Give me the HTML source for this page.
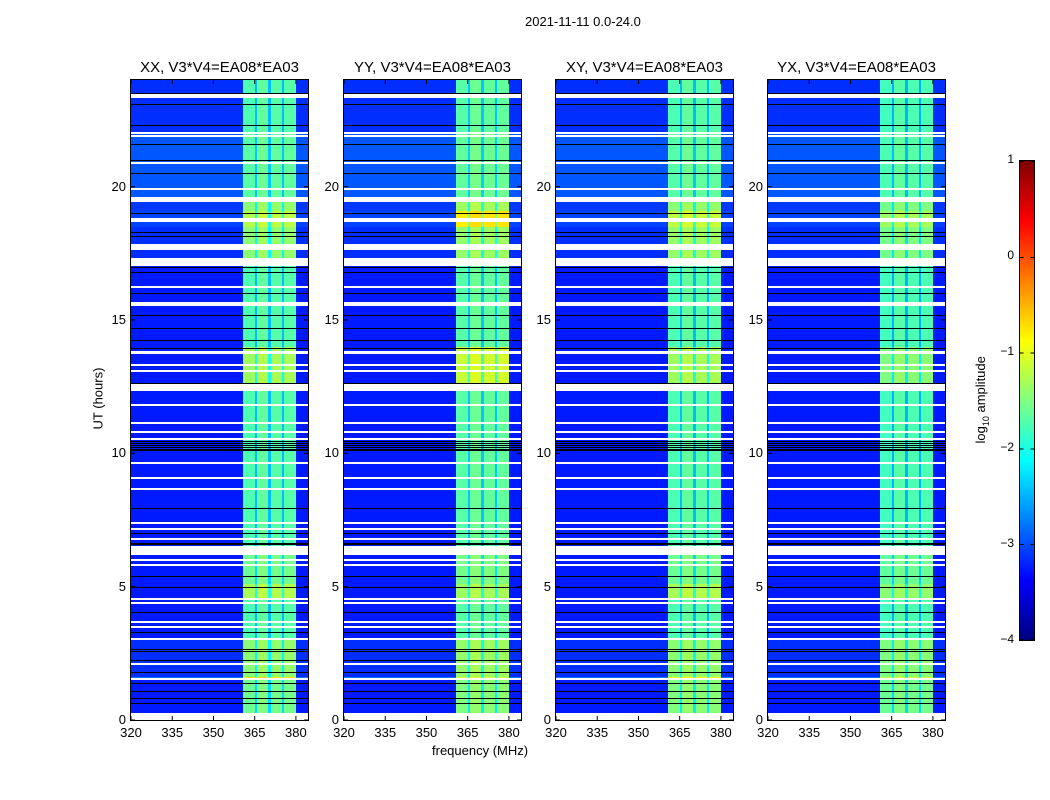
<!DOCTYPE html>
<html><head><meta charset="utf-8">
<style>
body{margin:0;background:#fff;width:1050px;height:800px;overflow:hidden;font-family:"Liberation Sans",sans-serif;}
#wrap{position:relative;width:1050px;height:800px;}
.t{position:absolute;font-size:13px;color:#000;white-space:nowrap;}
canvas{position:absolute;image-rendering:pixelated;}
</style></head>
<body>
<div id="wrap">
<div class="t" style="left:525px;top:14px;">2021-11-11 0.0-24.0</div>
<div class="t" style="left:432px;top:743px;">frequency (MHz)</div>
<div class="t" style="left:62px;top:391px;transform:rotate(-90deg);width:72px;text-align:center;">UT (hours)</div>
<div class="t" style="left:930px;top:391px;transform:rotate(-90deg);width:104px;text-align:center;">log<sub style="font-size:9px">10</sub> amplitude</div>
<canvas id="cb" width="16" height="480" style="left:1019px;top:160px;border:1px solid #000;box-sizing:border-box;width:16px;height:481px"></canvas>
</div>
<script>
// ---- data ----
const panelTitles = ["XX, V3*V4=EA08*EA03","YY, V3*V4=EA08*EA03","XY, V3*V4=EA08*EA03","YX, V3*V4=EA08*EA03"];
const xTicks = [320,335,350,365,380];
const yTicks = [0,5,10,15,20];
const cbTicks = [1,0,-1,-2,-3,-4];
// flagged (white) time ranges, hours
const whiteRanges = [[0,0.25],[1.5,1.56],[2.08,2.12],[3.0,3.06],[3.46,3.5],[3.65,3.69],[4.36,4.4],[4.51,4.55],[5.78,5.83],[5.98,6.03],[6.15,6.5],[6.76,6.8],[7.13,7.17],[7.38,7.42],[8.63,8.67],[9.04,9.08],[9.61,9.65],[10.53,10.57],[10.78,10.82],[11.13,11.17],[11.78,11.82],[12.35,12.6],[13.05,13.09],[13.31,13.35],[13.68,13.8],[15.53,15.57],[15.63,15.67],[16.23,16.27],[17.0,17.3],[17.66,17.7],[17.73,17.77],[17.78,17.82],[18.68,18.72],[18.78,18.82],[19.4,19.6],[19.91,19.95],[20.88,20.92],[21.88,21.92],[21.98,22.02],[23.3,23.45]];
// black rows, hours
const blackLines = [0.63,0.83,1.1,1.4,1.8,2.25,2.6,2.65,3.3,4.05,5.0,5.4,6.6,6.65,7.0,7.94,10.12,10.18,10.25,10.32,10.38,10.45,12.62,13.95,14.25,14.7,15.2,16.0,16.8,17.0,18.15,18.3,19.0,20.5,21.0,21.6,22.3,23.1,23.5];
// band level segments: segment start hours, log10 amplitude per panel
const segStarts = [0,1.5,1.6,3,4.5,5.1,6.5,12.6,14,17.3,18.5,19.1,19.6,22,24];
const bandXX = [-1.6,-0.8,-1.45,-1.75,-1.3,-1.6,-1.75,-1.35,-1.75,-1.45,-1.25,-1.45,-1.7,-1.75];
const bandYY = [-1.5,-1.15,-1.4,-1.7,-1.35,-1.55,-1.7,-1.15,-1.7,-1.4,-0.8,-1.35,-1.65,-1.7];
const bandXY = [-1.5,-0.9,-1.45,-1.75,-1.3,-1.6,-1.75,-1.35,-1.75,-1.4,-1.2,-1.45,-1.7,-1.75];
const bandYX = [-1.6,-1.15,-1.5,-1.8,-1.45,-1.65,-1.8,-1.5,-1.8,-1.55,-1.35,-1.55,-1.75,-1.8];
const bgLevels = [-3.25,-2.8,-3.15,-3.25,-3.25,-3.25,-3.25,-3.25,-3.25,-3.15,-3.05,-3.1,-2.95,-3.15];
// channel profile within band (MHz edges and offsets)
const chanEdges = [360.7,365,365.8,370,370.9,375,375.8,380.2];
const chanOffset = [0,-0.7,0.1,-0.7,0.05,-0.7,0.05];
const panels = [bandXX,bandYY,bandXY,bandYX];
const panelLeft = [131,344,556,768];

// ---- scales ----
const PW=177, PTOP=80, PH=640, FMIN=320, FMAX=384.4, TMAX=24;
const xs = (f)=> (f-FMIN)/(FMAX-FMIN)*PW;
const ys = (t)=> PH - t/TMAX*PH;
function jet(v){
  const c=(x)=>Math.max(0,Math.min(1,x));
  return [c(1.5-Math.abs(4*v-3)),c(1.5-Math.abs(4*v-2)),c(1.5-Math.abs(4*v-1))].map(x=>Math.round(x*255));
}
const norm = (l)=> (l+4)/5;
function segIdx(t){let i=0;while(i<segStarts.length-2&&t>=segStarts[i+1])i++;return i;}
const wrap=document.getElementById('wrap');

panels.forEach((band,p)=>{
  const L=panelLeft[p];
  const cv=document.createElement('canvas');
  cv.width=PW;cv.height=PH;
  cv.style.left=L+'px';cv.style.top=PTOP+'px';
  
  
  wrap.appendChild(cv);
  const ctx=cv.getContext('2d');
  const img=ctx.createImageData(PW,PH);
  for(let y=0;y<PH;y++){
    const t=(PH-y-0.5)/PH*TMAX;
    const si=segIdx(t);
    for(let x=0;x<PW;x++){
      const f=FMIN+(x+0.5)/PW*(FMAX-FMIN);
      let lv=bgLevels[si];
      if(f>=chanEdges[0]&&f<chanEdges[chanEdges.length-1]){
        let k=0;while(k<chanEdges.length-2&&f>=chanEdges[k+1])k++;
        lv=band[si]+chanOffset[k];
      }
      const col=jet(norm(lv));
      const o=(y*PW+x)*4;
      img.data[o]=col[0];img.data[o+1]=col[1];img.data[o+2]=col[2];img.data[o+3]=255;
    }
  }
  ctx.putImageData(img,0,0);
  ctx.fillStyle='#000';
  blackLines.forEach(t=>{ctx.fillRect(0,Math.round(ys(t)),PW,1);});
  ctx.fillStyle='#fff';
  whiteRanges.forEach(r=>{const y1=ys(r[1]),y0=ys(r[0]);ctx.fillRect(0,Math.floor(y1),PW,Math.max(2,Math.round(y0-y1)));});
  const svgNS='http://www.w3.org/2000/svg';
  const svg=document.createElementNS(svgNS,'svg');
  svg.setAttribute('width',PW+2);svg.setAttribute('height',PH+2);
  svg.style.position='absolute';svg.style.left=(L-1)+'px';svg.style.top=(PTOP-1)+'px';
  
  
  let h=`<rect x="0.5" y="0.5" width="${PW+1}" height="${PH+1}" fill="none" stroke="#000"/>`;
  xTicks.forEach(v=>{const x=xs(v)+1;h+=`<line x1="${x}" y1="1" x2="${x}" y2="5" stroke="#000"/><line x1="${x}" y1="${PH+1}" x2="${x}" y2="${PH-3}" stroke="#000"/>`;});
  yTicks.forEach(v=>{const y=ys(v)+1;h+=`<line x1="1" y1="${y}" x2="5" y2="${y}" stroke="#000"/><line x1="${PW+1}" y1="${y}" x2="${PW-3}" y2="${y}" stroke="#000"/>`;});
  svg.innerHTML=h;wrap.appendChild(svg);
  const tt=document.createElement('div');tt.className='t';tt.textContent=panelTitles[p];
  tt.style.fontSize='15px';tt.style.left=(L)+'px';tt.style.width=PW+'px';tt.style.textAlign='center';tt.style.top='59px';
  
  
  wrap.appendChild(tt);
  xTicks.forEach(v=>{const d=document.createElement('div');d.className='t';d.textContent=v;
    d.style.left=(L+xs(v)-20)+'px';d.style.width='40px';d.style.textAlign='center';d.style.top='725px';
    
    
    wrap.appendChild(d);});
  yTicks.forEach(v=>{const d=document.createElement('div');d.className='t';d.textContent=v;
    d.style.left=(L-45)+'px';d.style.width='40px';d.style.textAlign='right';d.style.top=(PTOP+ys(v)-8)+'px';
    
    
    wrap.appendChild(d);});
});
const cb=document.getElementById('cb');const cctx=cb.getContext('2d');
for(let y=0;y<480;y++){const c=jet(1-(y+0.5)/480);cctx.fillStyle=`rgb(${c[0]},${c[1]},${c[2]})`;cctx.fillRect(0,y,16,1);}
cbTicks.forEach(v=>{const y=160+(1-v)/5*480;
  const d=document.createElement('div');d.className='t';d.textContent=String(v).replace('-','\u2212');
  d.style.left='972px';d.style.width='42px';d.style.textAlign='right';d.style.top=(y-8)+'px';d.style.fontSize='12px';
  
  
  wrap.appendChild(d);
  cctx.fillStyle='#000';const yy=Math.min(479,Math.max(0,Math.round(y-160)));cctx.fillRect(0,yy,4,1);cctx.fillRect(12,yy,4,1);
});
</script>
</body></html>
